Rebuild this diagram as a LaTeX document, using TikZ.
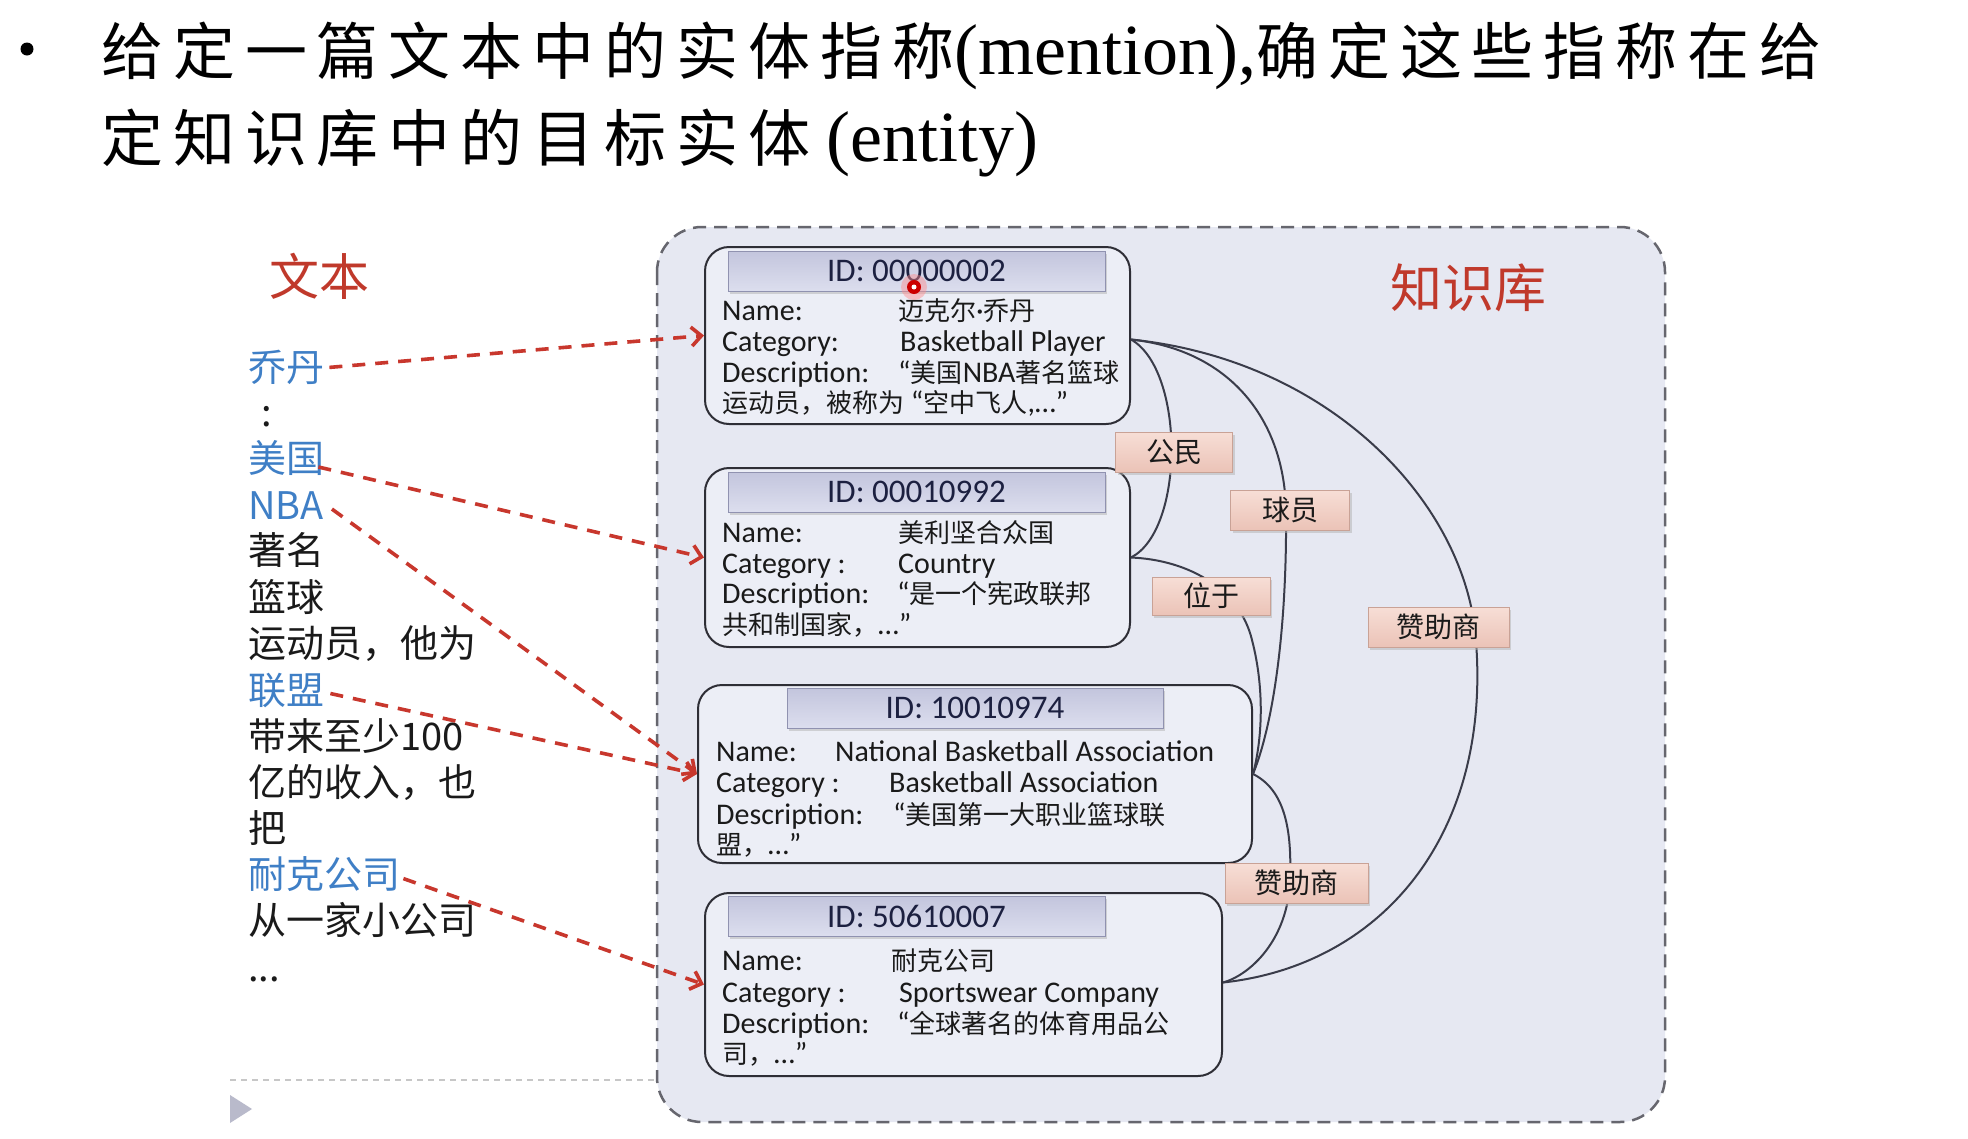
\documentclass[tikz,border=0pt]{standalone}
\usepackage{fontspec}
\setmainfont{Carlito}
\newfontfamily\cjk{Noto Sans CJK SC}
\newfontfamily\titlecjk[LetterSpace=16]{Noto Sans CJK SC}
\newfontfamily\titlelat{Liberation Serif}
\usetikzlibrary{arrows.meta,shadows}
\definecolor{redlab}{HTML}{C0392B}
\definecolor{mblue}{HTML}{3F7FC6}
\definecolor{linkred}{HTML}{C8372D}
\definecolor{kbfill}{HTML}{E6E8F2}
\definecolor{kbline}{HTML}{66666E}
\definecolor{boxfill}{HTML}{ECEEF6}
\definecolor{boxline}{HTML}{2E2E36}
\definecolor{idtop}{HTML}{C3C5DD}
\definecolor{idbot}{HTML}{DCDEEE}
\definecolor{idline}{HTML}{9092B0}
\definecolor{idtext}{HTML}{1C2040}
\definecolor{reltop}{HTML}{F7DED6}
\definecolor{relbot}{HTML}{EBC3B7}
\definecolor{relborder}{HTML}{C9A296}
\definecolor{curvec}{HTML}{3A3C4A}
\definecolor{txt}{HTML}{1A1A1A}
\definecolor{trigray}{HTML}{B9BACB}
\newcommand\zb[1]{{\cjk\fontsize{26pt}{36pt}\selectfont #1}}
\tikzset{
  mtext/.style={anchor=base west, inner sep=0pt, text=txt, font={\cjk\fontsize{38pt}{46pt}\selectfont}},
  mention/.style={mtext, text=mblue},
  ebox/.style={draw=boxline, line width=2pt, rounded corners=24pt, fill=boxfill, inner sep=0pt},
  idbar/.style={draw=idline, line width=1pt, top color=idtop, bottom color=idbot,
    drop shadow={shadow xshift=1.5pt, shadow yshift=-2.5pt, fill=black!30},
    font={\fontsize{33pt}{33pt}\selectfont}, text=idtext, inner sep=0pt, minimum height=40pt},
  ftext/.style={anchor=base west, inner sep=0pt, text=txt, font={\fontsize{30pt}{36pt}\selectfont}},
  relbox/.style={draw=relborder, line width=1pt, top color=reltop, bottom color=relbot,
    drop shadow={shadow xshift=2pt, shadow yshift=-3pt, fill=black!30},
    font={\cjk\fontsize{28pt}{28pt}\selectfont}, text=txt, inner sep=0pt, minimum height=40pt},
  relcurve/.style={draw=curvec, line width=2pt},
  linkarrow/.style={draw=linkred, line width=3.6pt, dash pattern=on 13pt off 10pt,
    -{Straight Barb[length=10pt,width=19pt]}},
}
\begin{document}
\begin{tikzpicture}[x=1pt,y=-1pt]
\useasboundingbox (0,0) rectangle (1968,1138);
\fill[white] (0,0) rectangle (1968,1138);

% title
\fill[black] (27,49) circle (6.5pt);
\node[anchor=base west, inner sep=0pt] (title1) at (101,74)
  {\titlecjk\fontsize{62pt}{62pt}\selectfont 给定一篇文本中的实体指称\titlelat\fontsize{72pt}{72pt}\selectfont(mention),\titlecjk\fontsize{62pt}{62pt}\selectfont 确定这些指称在给};
\node[anchor=base west, inner sep=0pt] (title2) at (101,161)
  {\titlecjk\fontsize{62pt}{62pt}\selectfont 定知识库中的目标实体\hspace{16pt}\titlelat\fontsize{72pt}{72pt}\selectfont(entity)};

% knowledge base frame
\draw[draw=kbline, fill=kbfill, line width=2.5pt, dash pattern=on 13pt off 8pt, rounded corners=45pt]
  (657,227) rectangle (1665,1122);
\draw[draw=black!22, line width=1.5pt, dash pattern=on 6pt off 5pt] (230,1080) -- (655,1080);
\fill[trigray] (230,1095) -- (230,1123) -- (252,1109) -- cycle;

% headings
\node[text=redlab, inner sep=0pt, font={\cjk\fontsize{50pt}{50pt}\selectfont}] (wenben) at (319,276) {文本};
\node[text=redlab, inner sep=0pt, font={\cjk\fontsize{52pt}{52pt}\selectfont}] (zsk) at (1468,288) {知识库};

% left text
\node[mention] (jd) at (248,381.5) {乔丹};
\node[anchor=base, inner sep=0pt, text=txt, font={\cjk\fontsize{38pt}{46pt}\selectfont}] (colon) at (267,426) {:};
\node[mention] (mg) at (248,472.5) {美国};
\node[mention] (nba) at (248,519) {NBA};
\node[mtext] (l5) at (248,564.5) {著名};
\node[mtext] (l6) at (248,611) {篮球};
\node[mtext] (l7) at (248,657.5) {运动员，他为};
\node[mention] (lm) at (248,704.5) {联盟};
\node[mtext] (l9) at (248,750) {带来至少100};
\node[mtext] (l10) at (248,796.5) {亿的收入，也};
\node[mtext] (l11) at (248,842.5) {把};
\node[mention] (nk) at (248,888) {耐克公司};
\node[mtext] (l13) at (248,934.5) {从一家小公司};
\node[mtext] (l14) at (248,981) {...};

% entity boxes
\node[ebox, minimum width=425pt, minimum height=177pt] (e1) at (917.5,335.5) {};
\node[ebox, minimum width=425pt, minimum height=179pt] (e2) at (917.5,557.5) {};
\node[ebox, minimum width=554pt, minimum height=178pt] (e3) at (975,774) {};
\node[ebox, minimum width=517pt, minimum height=183pt] (e4) at (963.5,984.5) {};

\node[idbar, minimum width=377pt] (h1) at (916.5,271) {ID: 00000002};
\node[idbar, minimum width=377pt] (h2) at (916.5,492) {ID: 00010992};
\node[idbar, minimum width=376pt] (h3) at (975,708) {ID: 10010974};
\node[idbar, minimum width=377pt] (h4) at (916.5,916) {ID: 50610007};

% box 1
\node[ftext] (e1a) at (722,320) {Name:};
\node[ftext] (e1b) at (898,320) {\zb{迈克尔}·\zb{乔丹}};
\node[ftext] (e1c) at (722,351) {Category:};
\node[ftext] (e1d) at (900,351) {Basketball Player};
\node[ftext] (e1e) at (722,382) {Description:};
\node[ftext] (e1f) at (898,382) {“\zb{美国}NBA\zb{著名篮球}};
\node[ftext] (e1g) at (722,412) {\zb{运动员，被称为} “\zb{空中飞人},…”};
% box 2
\node[ftext] (e2a) at (722,542) {Name:};
\node[ftext] (e2b) at (898,542) {\zb{美利坚合众国}};
\node[ftext] (e2c) at (722,573) {Category :};
\node[ftext] (e2d) at (898,573) {Country};
\node[ftext] (e2e) at (722,603) {Description:};
\node[ftext] (e2f) at (897,603) {“\zb{是一个宪政联邦}};
\node[ftext] (e2g) at (722,634) {\zb{共和制国家，}…”};
% box 3
\node[ftext] (e3a) at (716,761) {Name:};
\node[ftext] (e3b) at (835,761) {National Basketball Association};
\node[ftext] (e3c) at (716,792) {Category :};
\node[ftext] (e3d) at (889,792) {Basketball Association};
\node[ftext] (e3e) at (716,824) {Description:};
\node[ftext] (e3f) at (893,824) {“\zb{美国第一大职业篮球联}};
\node[ftext] (e3g) at (716,854) {\zb{盟，}…”};
% box 4
\node[ftext] (e4a) at (722,970) {Name:};
\node[ftext] (e4b) at (891,970) {\zb{耐克公司}};
\node[ftext] (e4c) at (722,1002) {Category :};
\node[ftext] (e4d) at (899,1002) {Sportswear Company};
\node[ftext] (e4e) at (722,1033) {Description:};
\node[ftext] (e4f) at (897,1033) {“\zb{全球著名的体育用品公}};
\node[ftext] (e4g) at (722,1063) {\zb{司，}…”};

% pointer mark
\fill[red!45, opacity=0.45] (914,287) circle (13pt);
\fill[red!80!black] (914,287) circle (7pt);
\fill[white] (914,287) circle (2.5pt);

% relation curves
\coordinate (j1) at ([yshift=-4pt]e1.east);
\coordinate (j4) at ([yshift=2pt]e4.east);
\draw[relcurve] (j1) .. controls (1185,370) and (1185,530) .. (e2.east);
\draw[relcurve] (j1) .. controls (1230,350) and (1285,420) .. (1286,512) .. controls (1287,620) and (1275,720) .. (e3.east);
\draw[relcurve] (e2.east) .. controls (1190,560) and (1240,590) .. (1252,640) .. controls (1265,690) and (1262,740) .. (e3.east);
\draw[relcurve] (j1) .. controls (1330,360) and (1460,500) .. (1475,630) .. controls (1495,830) and (1385,965) .. (j4);
\draw[relcurve] (e3.east) .. controls (1285,790) and (1292,830) .. (1290,880) .. controls (1288,940) and (1250,975) .. (j4);

% relation labels
\node[relbox, minimum width=117pt] (r1) at (1174,452) {公民};
\node[relbox, minimum width=119pt] (r2) at (1290,510) {球员};
\node[relbox, minimum width=118pt, minimum height=38pt] (r3) at (1211,596) {位于};
\node[relbox, minimum width=141pt] (r4) at (1438.5,627) {赞助商};
\node[relbox, minimum width=143pt] (r5) at (1296.5,883) {赞助商};

% mention links
\draw[linkarrow] ([xshift=5pt]jd.east) -- (e1.west);
\draw[linkarrow] ([xshift=-6pt,yshift=-9pt]mg.east) -- (e2.west);
\draw[linkarrow] ([xshift=8pt,yshift=-4pt]nba.east) -- (e3.west);
\draw[linkarrow] ([xshift=6pt,yshift=-3pt]lm.east) -- (e3.west);
\draw[linkarrow] ([xshift=3pt,yshift=-5pt]nk.east) -- (e4.west);
\end{tikzpicture}
\end{document}
